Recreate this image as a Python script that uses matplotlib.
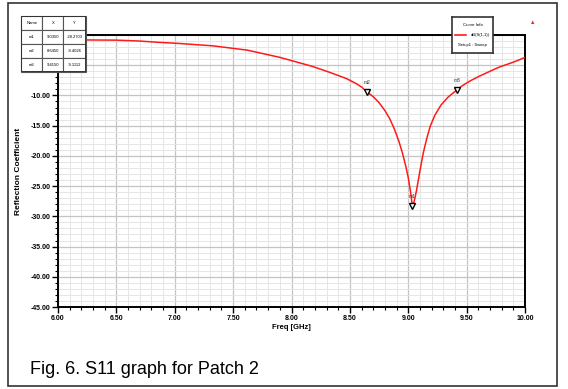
import matplotlib
matplotlib.use("Agg")
import matplotlib.pyplot as plt
from matplotlib.ticker import MultipleLocator, FormatStrFormatter
from matplotlib.patches import Rectangle

plt.rcParams['font.family'] = ['Liberation Sans', 'DejaVu Sans']

# ---- data ----
freq = [6.00, 6.25, 6.50, 6.70, 6.85, 7.04, 7.33, 7.62, 7.90, 8.18, 8.33, 8.47,
        8.55, 8.60, 8.645, 8.70, 8.75, 8.80, 8.84, 8.88, 8.92, 8.95, 8.98,
        9.00, 9.02, 9.035, 9.05, 9.07, 9.09, 9.11, 9.13, 9.16, 9.19, 9.23,
        9.28, 9.34, 9.415, 9.47, 9.53, 9.60, 9.70, 9.78, 9.87, 9.94, 10.00]
s11 = [-0.80, -0.82, -0.85, -1.00, -1.20, -1.40, -1.80, -2.50, -3.70, -5.20,
       -6.20, -7.20, -8.00, -8.60, -9.40, -10.20, -11.20, -12.50, -13.80,
       -15.50, -17.60, -19.50, -21.80, -23.60, -26.00, -28.27, -27.60, -25.80,
       -23.60, -21.40, -19.40, -17.00, -15.00, -13.20, -11.60, -10.30, -9.10,
       -8.30, -7.60, -6.90, -6.00, -5.30, -4.70, -4.20, -3.70]

marker_names = ["m1", "m2", "m3"]
marker_freq = [9.0350, 8.6450, 9.4150]
marker_db = [-28.2703, -9.4026, -9.1112]

x_ticks = [6.00, 6.50, 7.00, 7.50, 8.00, 8.50, 9.00, 9.50, 10.00]
y_ticks = [-45.0, -40.0, -35.0, -30.0, -25.0, -20.0, -15.0, -10.0, -5.0, 0.0]

# ---- figure ----
W, H = 568, 389
fig = plt.figure(figsize=(W / 100, H / 100), dpi=100)

# outer frame
fig.patches.append(Rectangle((8 / W, 1 - 386 / H), (557 - 8) / W, (386 - 3) / H,
                             transform=fig.transFigure, fill=False,
                             edgecolor='#333333', linewidth=1.2))

ax = fig.add_axes([58 / W, 1 - 307 / H, (525 - 58) / W, (307 - 35) / H])
ax.plot(freq, s11, color='#ff1a1a', linewidth=1.1, zorder=3)
ax.set_xlim(6.0, 10.0)
ax.set_ylim(-45.0, 0.0)
ax.set_xticks(x_ticks)
ax.set_yticks(y_ticks)
ax.xaxis.set_minor_locator(MultipleLocator(0.1))
ax.yaxis.set_minor_locator(MultipleLocator(1.0))
ax.xaxis.set_major_formatter(FormatStrFormatter('%.2f'))
ax.yaxis.set_major_formatter(FormatStrFormatter('%.2f'))
ax.grid(which='major', color='#c4c4c4', linewidth=0.9, zorder=0)
ax.grid(which='minor', color='#e6e6e6', linewidth=0.7, zorder=0)
ax.set_axisbelow(True)
ax.tick_params(which='major', direction='out', length=4, width=1.0,
               labelsize=5, pad=1.5)
ax.tick_params(which='minor', direction='out', length=2, width=0.8)
for lbl in ax.get_xticklabels() + ax.get_yticklabels():
    lbl.set_fontweight('bold')
for sp in ax.spines.values():
    sp.set_linewidth(1.4)
    sp.set_color('black')

ax.set_xlabel("Freq [GHz]", fontsize=5.5, fontweight='bold', labelpad=2)
ax.set_ylabel("Reflection Coefficient", fontsize=6, fontweight='bold', labelpad=6)

# markers
for name, mf, md in zip(marker_names, marker_freq, marker_db):
    ax.plot([mf], [md], marker='v', markersize=4, markerfacecolor='white',
            markeredgecolor='black', markeredgewidth=1.0, zorder=5, clip_on=False)
    ax.text(mf, md + 1.2, name, fontsize=3.5, ha='center', va='bottom',
            color='#333333', zorder=5)

# marker table
tab_ax = fig.add_axes([21 / W, 1 - 72 / H, (86 - 21) / W, (72 - 16) / H])
tab_ax.set_axis_off()
cell_text = [["Name", "X", "Y"]] + [
    [n, f"{f:.4f}", f"{d:.4f}"] for n, f, d in zip(marker_names, marker_freq, marker_db)]
tbl = tab_ax.table(cellText=cell_text, bbox=[0, 0, 1, 1],
                   colWidths=[0.33, 0.32, 0.35], cellLoc='center')
tbl.auto_set_font_size(False)
for (r, c), cell in tbl.get_celld().items():
    cell.set_fontsize(3)
    cell.set_edgecolor('#555555')
    cell.set_linewidth(0.8)
    cell.set_facecolor('white')
tab_ax.add_patch(Rectangle((0, 0), 1, 1, transform=tab_ax.transAxes, fill=False,
                           edgecolor='#333333', linewidth=1.4, zorder=10))

# curve info box
leg_ax = fig.add_axes([452 / W, 1 - 53 / H, (493 - 452) / W, (53 - 17) / H])
leg_ax.set_xlim(0, 1)
leg_ax.set_ylim(0, 1)
leg_ax.set_xticks([])
leg_ax.set_yticks([])
for sp in leg_ax.spines.values():
    sp.set_linewidth(1.2)
    sp.set_color('#333333')
leg_ax.text(0.5, 0.78, "Curve Info", fontsize=3.2, ha='center', va='center')
leg_ax.plot([0.08, 0.35], [0.5, 0.5], color='#ff1a1a', linewidth=1.2)
leg_ax.text(0.45, 0.5, "dB(S(1,1))", fontsize=3.0, ha='left', va='center')
leg_ax.text(0.5, 0.22, "Setup1 : Sweep", fontsize=3.0, ha='center', va='center')

# small logo mark top right
fig.text(533 / W, 1 - 22 / H, "\u25B2", color='#ee2222', fontsize=4,
         ha='center', va='center')

# caption
fig.text(30 / W, 1 - 374 / H, "Fig. 6. S11 graph for Patch 2", fontsize=13,
         ha='left', va='baseline', color='black')

fig.savefig("out.png", dpi=100)
